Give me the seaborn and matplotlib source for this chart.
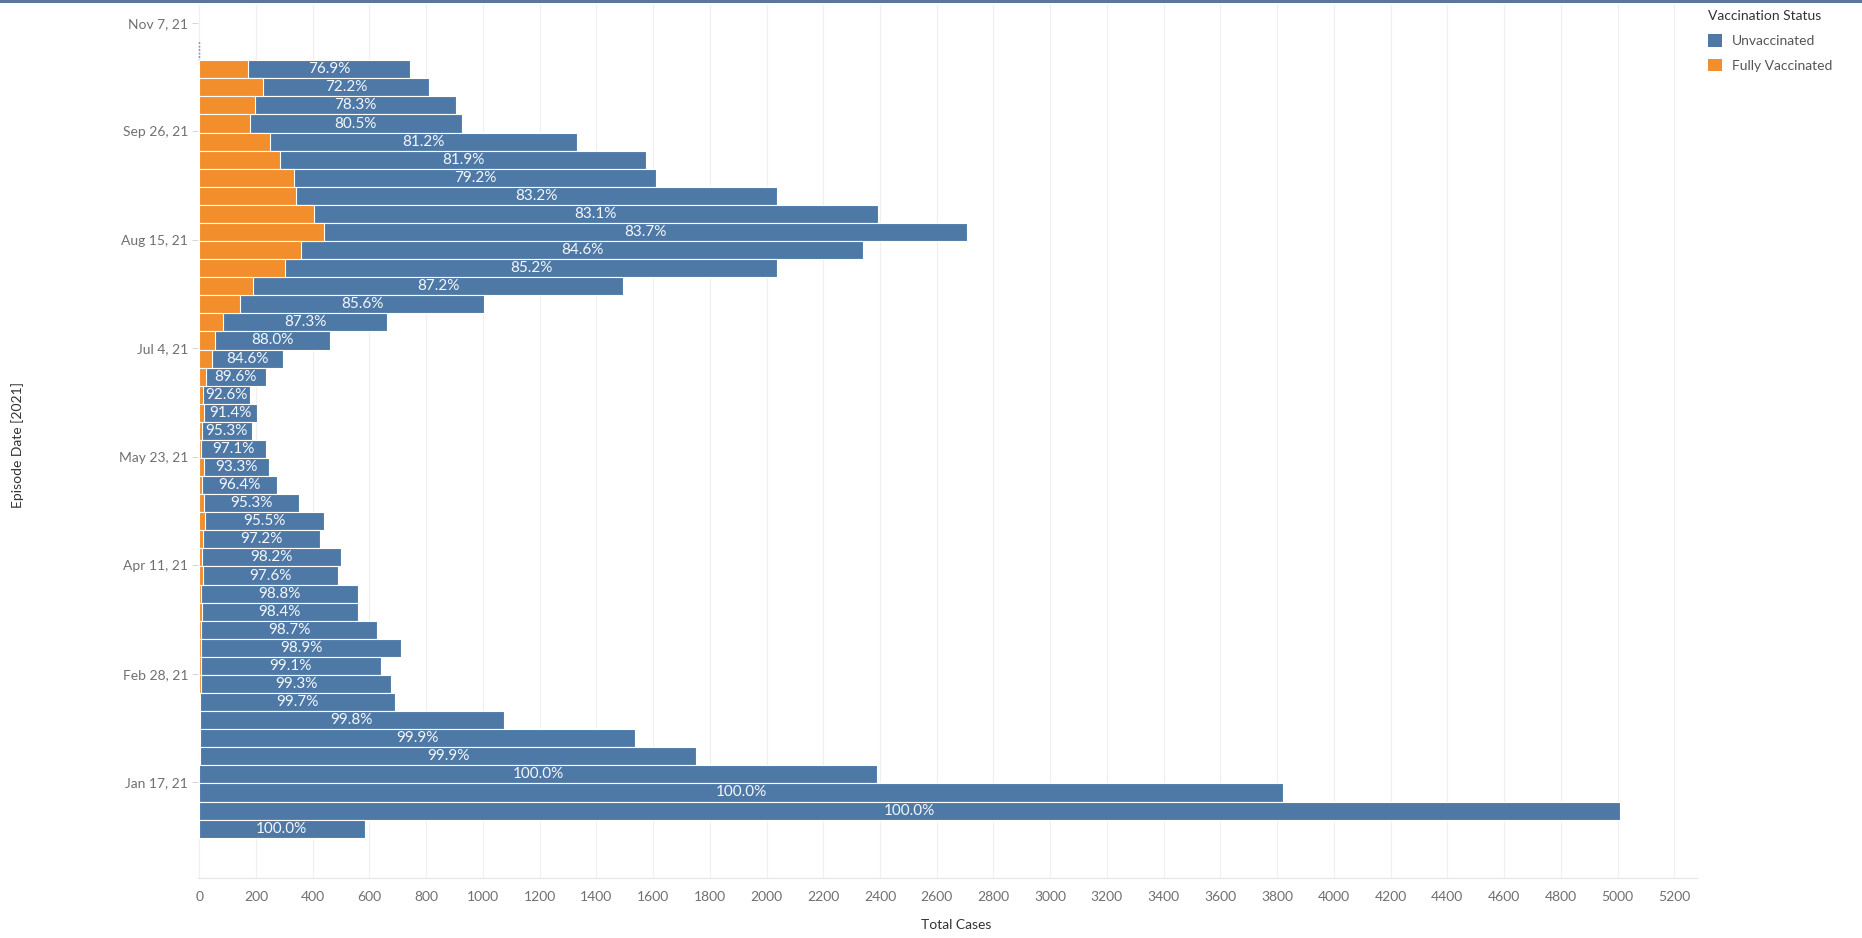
import numpy as np
import pandas as pd
import matplotlib
matplotlib.use("Agg")
import matplotlib.pyplot as plt
from matplotlib.patches import Patch, Rectangle
import seaborn as sns

# ---- data (chronological, weekly, Dec 30 2020 -> Oct 27 2021) ----
week_start = "2020-12-30"
n_weeks = 44
unvaccinated = [583, 5010, 3822, 2389, 1751, 1533, 1071, 689, 673, 634, 705, 619,
                551, 553, 476, 491, 414, 419, 335, 263, 230, 227, 176, 187, 167,
                210, 249, 407, 579, 859, 1302, 1736, 1981, 2266, 1989, 1696, 1277,
                1291, 1081, 745, 709, 585, 573, 0]
fully_vaccinated = [0, 0, 0, 0, 2, 2, 2, 2, 5, 6, 8, 8, 9, 7, 12, 9, 12, 20, 16, 10,
                    17, 7, 9, 18, 13, 24, 45, 56, 84, 145, 191, 302, 360, 441, 404,
                    342, 335, 285, 250, 180, 196, 225, 172, 0]
pct_labels = ["100.0%", "100.0%", "100.0%", "100.0%", "99.9%", "99.9%", "99.8%",
              "99.7%", "99.3%", "99.1%", "98.9%", "98.7%", "98.4%", "98.8%", "97.6%",
              "98.2%", "97.2%", "95.5%", "95.3%", "96.4%", "93.3%", "97.1%", "95.3%",
              "91.4%", "92.6%", "89.6%", "84.6%", "88.0%", "87.3%", "85.6%", "87.2%",
              "85.2%", "84.6%", "83.7%", "83.1%", "83.2%", "79.2%", "81.9%", "81.2%",
              "80.5%", "78.3%", "72.2%", "76.9%", ""]
tick_dates = ["2021-11-07", "2021-09-26", "2021-08-15", "2021-07-04",
              "2021-05-23", "2021-04-11", "2021-02-28", "2021-01-17"]
x_ticks = list(range(0, 5201, 200))

BLUE = "#4e79a7"
ORANGE = "#f28e2b"

weeks = pd.date_range(week_start, periods=n_weeks, freq="7D")
df = pd.DataFrame({
    "week": weeks.strftime("%Y-%m-%d"),
    "Unvaccinated": unvaccinated,
    "Fully Vaccinated": fully_vaccinated,
    "label": pct_labels,
})
df["total"] = df["Unvaccinated"] + df["Fully Vaccinated"]
order = list(df["week"][::-1])          # latest at top

sns.set_theme(style="white")
plt.rcParams["font.family"] = ["Lato", "DejaVu Sans"]

fig = plt.figure(figsize=(18.62, 9.38), dpi=100)
W, H = 1862, 938
ax = fig.add_axes([198 / W, 1 - 878 / H, (1697 - 198) / W, (878 - 4) / H])

sns.barplot(data=df, x="total", y="week", order=order, color=BLUE, saturation=1,
            width=1.0, errorbar=None, edgecolor="white", linewidth=0.8, ax=ax)
n_blue = len(ax.patches)
sns.barplot(data=df, x="Fully Vaccinated", y="week", order=order, color=ORANGE,
            saturation=1, width=1.0, errorbar=None, edgecolor="white",
            linewidth=0.8, ax=ax)

for i, p in enumerate(ax.patches):
    if p.get_width() == 0:
        if i < n_blue and i == 0:
            p.set_edgecolor("#8a9bb0")
            p.set_linestyle((0, (1, 1.5)))
            p.set_linewidth(1.0)
        else:
            p.set_visible(False)

# percentage labels centred on the unvaccinated segment
pos = {w: i for i, w in enumerate(order)}
for _, r in df.iterrows():
    if r["label"]:
        ax.text(r["Fully Vaccinated"] + r["Unvaccinated"] / 2, pos[r["week"]],
                r["label"], ha="center", va="center", color="#f4f7fa",
                fontsize=11)

# axes styling
ax.set_xlim(-4, 5280)
ax.set_ylim(45.73, -2.61)
ax.set_xticks(x_ticks)
ax.set_xticklabels([str(v) for v in x_ticks])
latest_dt = weeks[-1]
tick_pos = [(latest_dt - pd.Timestamp(d)).days / 7 for d in tick_dates]
tick_lab = [f"{pd.Timestamp(d):%b} {pd.Timestamp(d).day}, {pd.Timestamp(d):%y}"
            for d in tick_dates]
ax.set_yticks(tick_pos)
ax.set_yticklabels(tick_lab)

ax.grid(axis="x", color="#efefef", linewidth=0.8)
ax.grid(axis="y", visible=False)
ax.set_axisbelow(True)
for s in ["left", "top", "right"]:
    ax.spines[s].set_visible(False)
ax.spines["bottom"].set_color("#e4e4e4")
ax.spines["bottom"].set_linewidth(0.8)

ax.tick_params(axis="x", length=0, pad=9, labelsize=10, labelcolor="#707070")
ax.tick_params(axis="y", length=4, width=0.6, color="#d0d0d0", pad=3,
               labelsize=10, labelcolor="#707070", left=True)

ax.set_xlabel("Total Cases", fontsize=10, color="#333333")
ax.xaxis.set_label_coords((956 - 198) / 1499, (878 - 919) / 874)
ax.set_ylabel("Episode Date [2021]", fontsize=10, color="#333333")
ax.yaxis.set_label_coords((24 - 198) / 1499, 0.495)

handles = [Patch(facecolor=BLUE, edgecolor="none", label="Unvaccinated"),
           Patch(facecolor=ORANGE, edgecolor="none", label="Fully Vaccinated")]
leg = fig.legend(handles=handles, title="Vaccination Status", loc="upper left",
                 bbox_to_anchor=(1700 / W, 1 - 2 / H), frameon=False,
                 fontsize=10, title_fontsize=10, handlelength=1.0,
                 handleheight=1.0, handletextpad=0.7, labelspacing=0.85,
                 alignment="left", borderaxespad=0.2)
for t in leg.get_texts():
    t.set_color("#555555")
leg.get_title().set_color("#333333")

fig.add_artist(Rectangle((0, 1 - 3 / H), 1, 3 / H, transform=fig.transFigure,
                         facecolor="#5b7897", edgecolor="none"))

fig.savefig("out.png", dpi=100)
